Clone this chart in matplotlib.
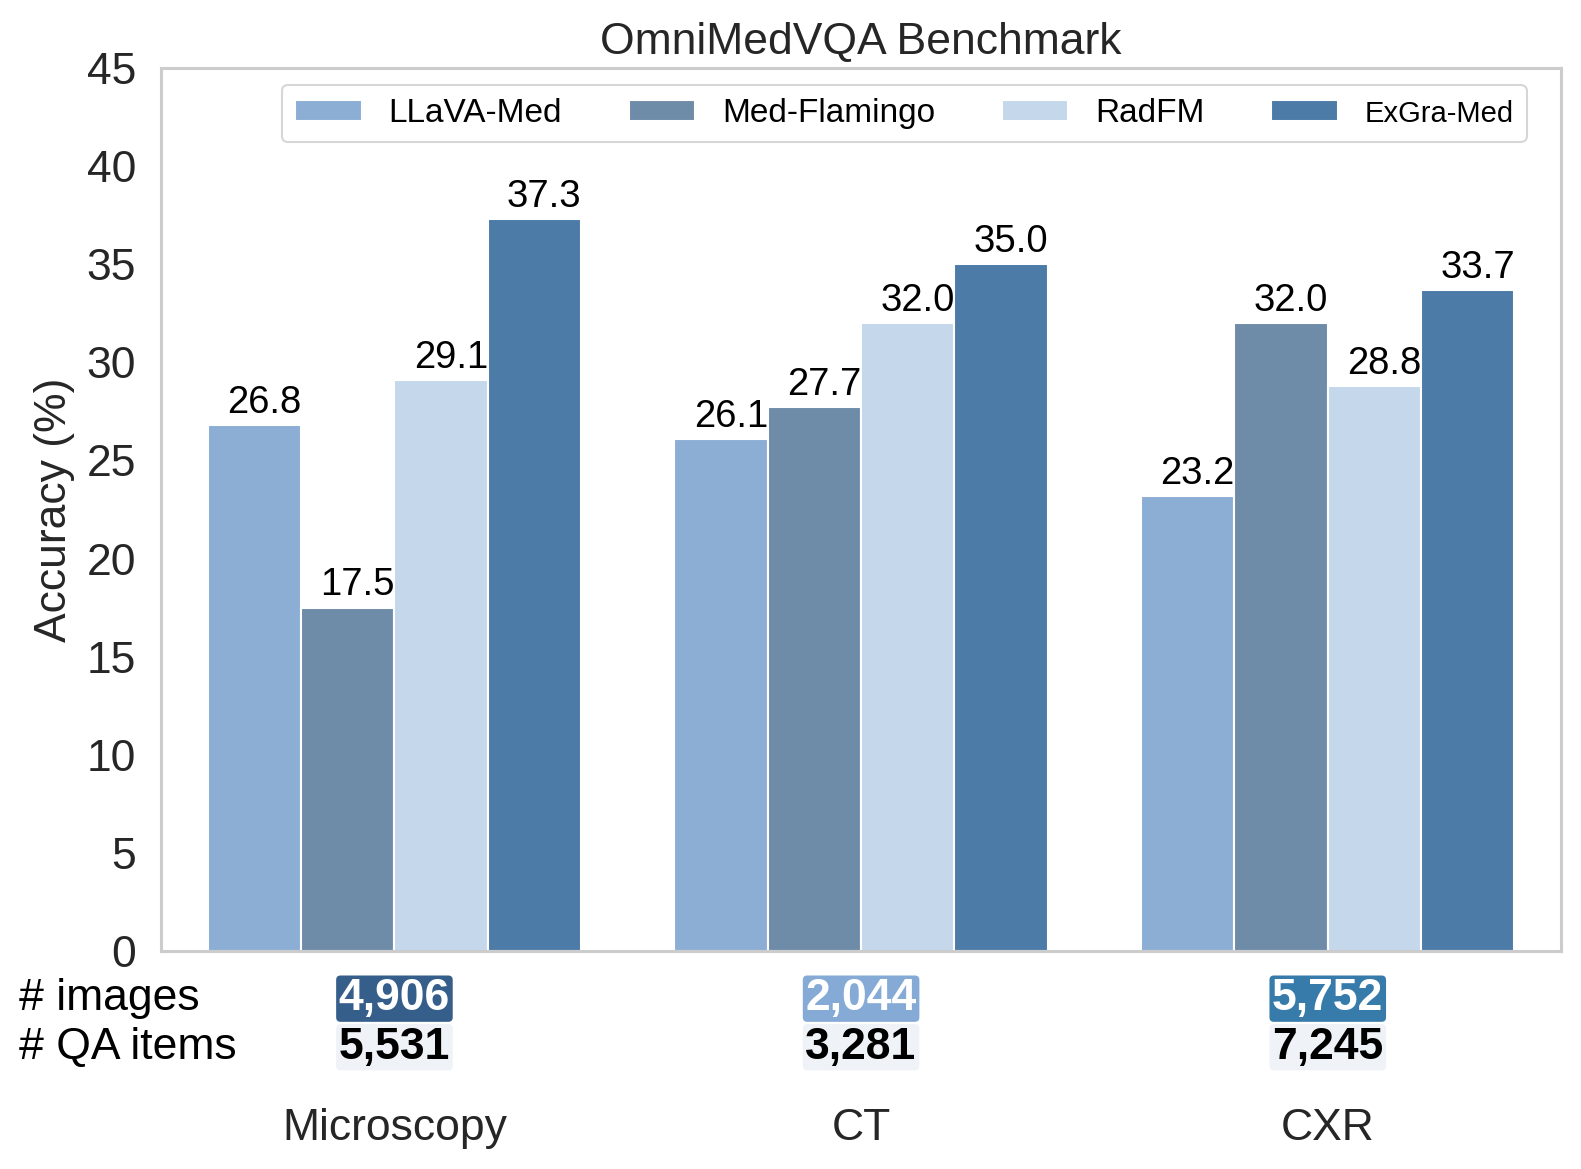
import matplotlib
matplotlib.use("Agg")
import matplotlib.pyplot as plt
import numpy as np

plt.rcParams["font.family"] = ["Liberation Sans", "DejaVu Sans"]

categories = ["Microscopy", "CT", "CXR"]
models = ["LLaVA-Med", "Med-Flamingo", "RadFM", "ExGra-Med"]
llava_med = [26.8, 26.1, 23.2]
med_flamingo = [17.5, 27.7, 32.0]
radfm = [29.1, 32.0, 28.8]
exgra_med = [37.3, 35.0, 33.7]
n_images = ["4,906", "2,044", "5,752"]
n_qa = ["5,531", "3,281", "7,245"]

MODEL_COLORS = ["#8caed4", "#6e8ca8", "#c4d7eb", "#4c7ba8"]
IMAGE_BOX_COLORS = ["#355e8a", "#86aad6", "#377bab"]
QA_BOX_COLOR = "#eff3f8"

fig = plt.figure(figsize=(15.81, 11.69), dpi=100)
ax = fig.add_axes([0.1019, 0.1865, 0.8855, 0.7553])

x = np.arange(len(categories))
width = 0.2
series = [llava_med, med_flamingo, radfm, exgra_med]
for i, (name, values) in enumerate(zip(models, series)):
    offset = (i - 1.5) * width
    bars = ax.bar(x + offset, values, width, color=MODEL_COLORS[i],
                  edgecolor="white", linewidth=1.5, label=name)
    for rect, value in zip(bars, values):
        ax.annotate(f"{value:.1f}",
                    (rect.get_x() + rect.get_width() / 2, rect.get_height()),
                    xytext=(7, 3), textcoords="offset points",
                    ha="center", va="bottom", fontsize=27.5, color="black")

ax.set_xlim(-0.5, 2.5)
ax.set_ylim(0, 45)
ax.set_yticks(np.arange(0, 46, 5))
ax.tick_params(axis="y", length=0, pad=18, labelsize=32, labelcolor="#262626")
ax.set_xticks(x)
ax.set_xticklabels(categories)
ax.tick_params(axis="x", length=0, pad=113, labelsize=32, labelcolor="#262626")
ax.set_ylabel("Accuracy (%)", fontsize=32, color="#262626", labelpad=8)
ax.set_title("OmniMedVQA Benchmark", fontsize=32, color="#262626", pad=10)

for side in ["left", "right", "top", "bottom"]:
    ax.spines[side].set_color("#cccccc")
    ax.spines[side].set_linewidth(2.2)

leg = ax.legend(loc="upper right", ncol=4, fontsize=24, frameon=True,
                bbox_to_anchor=(0.9875, 1.0), handlelength=2.0, handleheight=0.6,
                columnspacing=2.0, handletextpad=0.8, borderpad=0.4)
leg.get_frame().set_edgecolor("#cccccc")
leg.get_frame().set_linewidth(1.5)
leg.get_texts()[3].set_fontsize(21)

# dataset-size table below the axis
trans = ax.get_xaxis_transform()
fig.text(0.012, 0.146, "# images", fontsize=32, va="center", ha="left")
fig.text(0.012, 0.104, "# QA items", fontsize=32, va="center", ha="left")
num_font = dict(family=["Liberation Sans Narrow", "Liberation Sans"], weight="bold", fontsize=32)
for xi, img, qa, col in zip(x, n_images, n_qa, IMAGE_BOX_COLORS):
    ax.text(xi, -0.054, img, transform=trans, ha="center", va="center", color="white",
            bbox=dict(boxstyle="round,pad=0.06,rounding_size=0.1", fc=col, ec="none"),
            **num_font)
    ax.text(xi, -0.109, qa, transform=trans, ha="center", va="center", color="black",
            bbox=dict(boxstyle="round,pad=0.06,rounding_size=0.1", fc=QA_BOX_COLOR, ec="none"),
            **num_font)

fig.savefig("out.png", dpi=100)
